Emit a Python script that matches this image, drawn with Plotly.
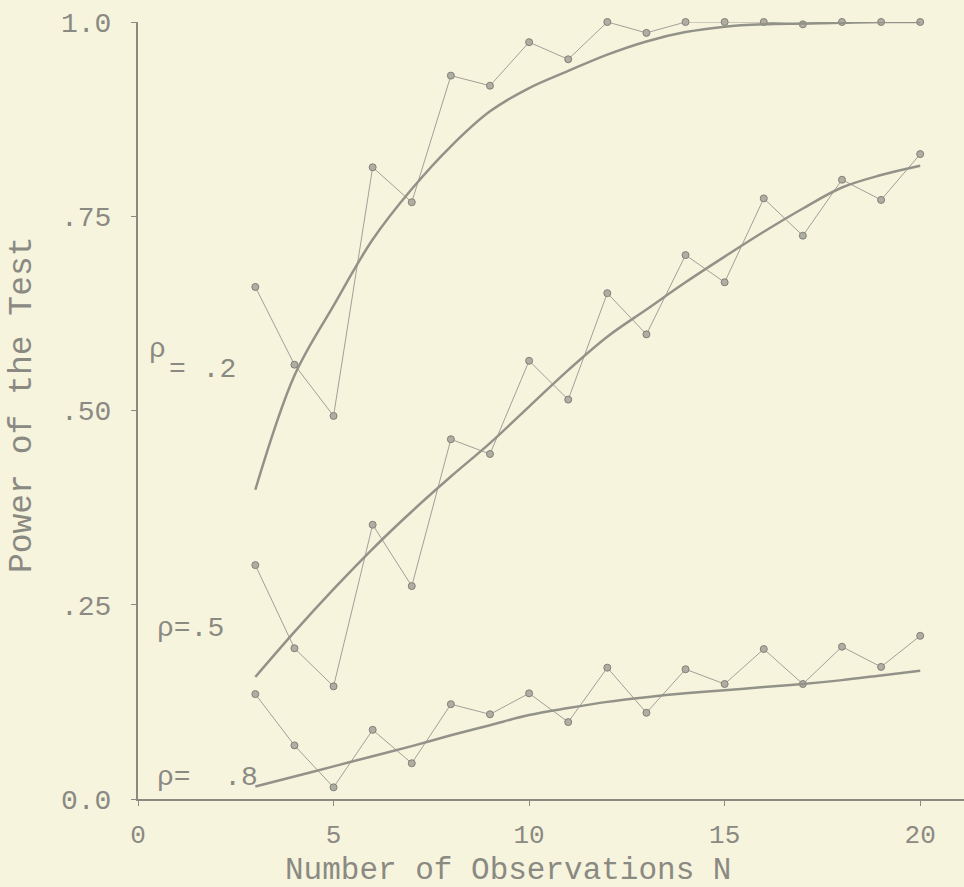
import plotly.graph_objects as go

# ---- data ----
N = list(range(3, 21))

obs_rho2 = [0.659, 0.559, 0.493, 0.813, 0.768, 0.931, 0.918, 0.974, 0.952, 1.0,
            0.986, 1.0, 1.0, 1.0, 0.997, 1.0, 1.0, 1.0]
obs_rho5 = [0.301, 0.194, 0.145, 0.353, 0.274, 0.463, 0.444, 0.564, 0.514, 0.651,
            0.598, 0.700, 0.665, 0.773, 0.725, 0.797, 0.771, 0.830]
obs_rho8 = [0.135, 0.069, 0.015, 0.089, 0.046, 0.122, 0.109, 0.136, 0.099, 0.169,
            0.111, 0.167, 0.148, 0.193, 0.148, 0.196, 0.170, 0.210]

fit_rho2 = [0.398, 0.545, 0.635, 0.720, 0.785, 0.840, 0.885, 0.915, 0.937, 0.958,
            0.975, 0.987, 0.994, 0.997, 0.998, 0.999, 1.0, 1.0]
fit_rho5 = [0.157, 0.215, 0.270, 0.322, 0.370, 0.415, 0.458, 0.505, 0.552, 0.595,
            0.630, 0.665, 0.698, 0.730, 0.760, 0.787, 0.803, 0.815]
fit_rho8 = [0.016, 0.029, 0.042, 0.055, 0.068, 0.082, 0.095, 0.108, 0.117, 0.125,
            0.131, 0.136, 0.140, 0.144, 0.148, 0.153, 0.159, 0.165]

x_ticks = [0, 5, 10, 15, 20]
x_ticktext = ["0", "5", "10", "15", "20"]
y_ticks = [0, 0.25, 0.5, 0.75, 1.0]
y_ticktext = ["0.0", ".25", ".50", ".75", "1.0"]

BG = "#f7f4de"
INK = "#8a8a82"
THIN = "#a0a098"
FONT = "Liberation Mono"

fig = go.Figure()

for obs in (obs_rho2, obs_rho5, obs_rho8):
    fig.add_trace(go.Scatter(
        x=N, y=obs, mode="lines+markers",
        line=dict(color=THIN, width=1),
        marker=dict(size=7, color="#b0aea2", line=dict(color="#808078", width=1)),
        cliponaxis=False, showlegend=False))

for fit in (fit_rho2, fit_rho5, fit_rho8):
    fig.add_trace(go.Scatter(
        x=N, y=fit, mode="lines", line=dict(color="#929289", width=2.5, shape="spline"),
        cliponaxis=False, showlegend=False))

ann_font = dict(family=FONT, size=28, color=INK)
fig.add_annotation(x=0.23, y=0.578, text="ρ", showarrow=False, xanchor="left", yanchor="middle", font=ann_font)
fig.add_annotation(x=0.74, y=0.553, text="= .2", showarrow=False, xanchor="left", yanchor="middle", font=ann_font)
fig.add_annotation(x=0.44, y=0.22, text="ρ=.5", showarrow=False, xanchor="left", yanchor="middle", font=ann_font)
fig.add_annotation(x=0.44, y=0.028, text="ρ=  .8", showarrow=False, xanchor="left", yanchor="middle", font=ann_font)

fig.add_annotation(xref="paper", yref="paper", x=0.448, y=-0.0915, text="Number of Observations N",
                   showarrow=False, xanchor="center", yanchor="middle",
                   font=dict(family=FONT, size=31, color=INK))
fig.add_annotation(xref="paper", yref="paper", x=-0.1404, y=0.507, text="Power of the Test",
                   textangle=-90, showarrow=False, xanchor="center", yanchor="middle",
                   font=dict(family=FONT, size=33, color=INK))

fig.update_layout(
    width=964, height=887,
    margin=dict(l=138, r=0, t=22, b=88),
    paper_bgcolor=BG, plot_bgcolor=BG,
    xaxis=dict(range=[0, 21.12], tickvals=x_ticks, ticktext=x_ticktext,
               showgrid=False, zeroline=False, showline=True, linecolor=INK, linewidth=2,
               ticks="outside", ticklen=5, tickcolor=INK, ticklabelstandoff=6,
               tickfont=dict(family=FONT, size=26, color=INK)),
    yaxis=dict(range=[0, 1.0], tickvals=y_ticks, ticktext=y_ticktext,
               showgrid=False, zeroline=False, showline=True, linecolor=INK, linewidth=2,
               ticks="outside", ticklen=5, tickcolor=INK, ticklabelstandoff=14,
               tickfont=dict(family=FONT, size=28, color=INK)),
)

fig.write_html("out.html", config={"displayModeBar": False},
               post_script="document.body.style.margin='0px';document.body.style.overflow='hidden';")
